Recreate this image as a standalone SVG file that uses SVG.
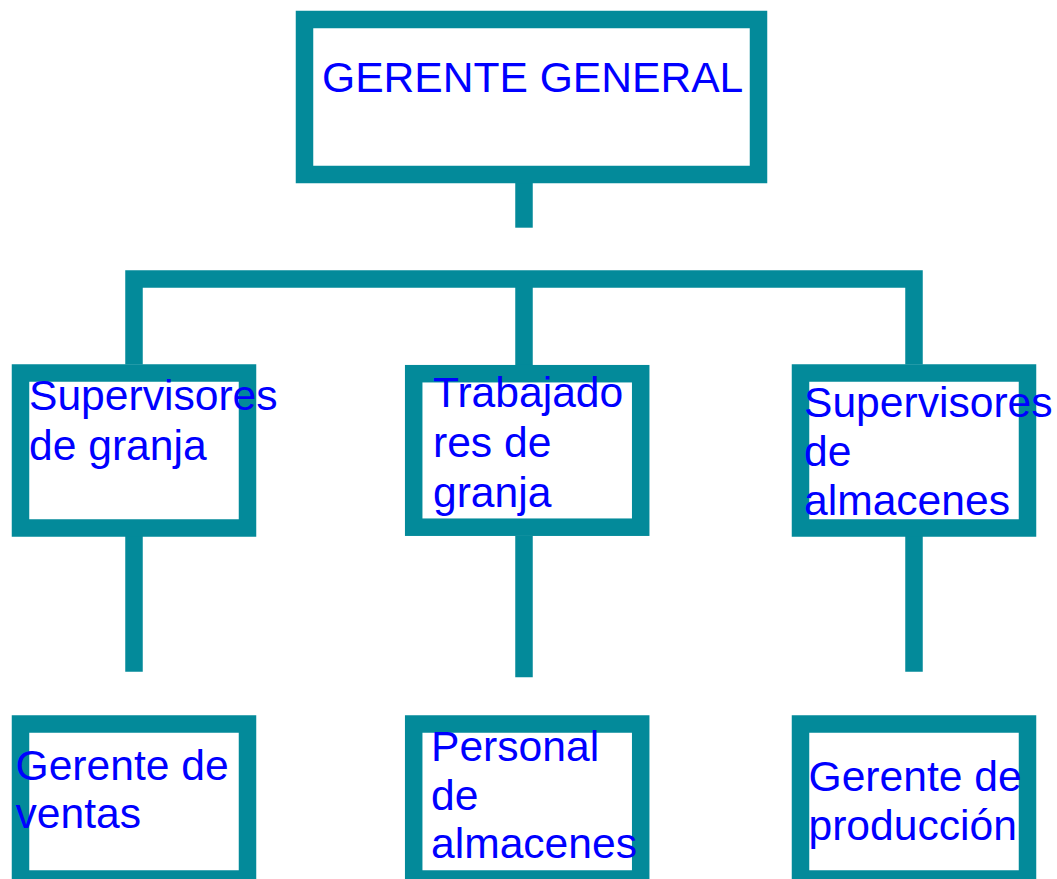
<svg xmlns="http://www.w3.org/2000/svg" width="1057" height="879" viewBox="0 0 1057 879">
<style>
.box{fill:#ffffff;stroke:#038a9a;stroke-width:17.5}
.conn{fill:none;stroke:#038a9a;stroke-width:17.5;stroke-linecap:butt;stroke-linejoin:miter}
.t{font-family:"Liberation Sans",Arial,sans-serif;font-size:42.6px;fill:#0000ff}
</style>
<rect width="1057" height="879" fill="#ffffff"/>
<g id="connectors">
<line class="conn" x1="524" y1="183" x2="524" y2="227.7"/>
<polyline class="conn" points="134,364.5 134,279 914,279 914,364.5"/>
<line class="conn" x1="524" y1="279" x2="524" y2="365"/>
<line class="conn" x1="134" y1="536" x2="134" y2="671.7"/>
<line class="conn" x1="524" y1="536" x2="524" y2="677.3"/>
<line class="conn" x1="914" y1="536" x2="914" y2="671.7"/>
</g>
<g id="gerente-general">
<rect class="box" x="304.5" y="19.5" width="454" height="155"/>
<text class="t" x="322" y="91.7">GERENTE GENERAL</text>
</g>
<g id="supervisores-granja">
<rect class="box" x="20.5" y="373" width="227" height="155"/>
<text class="t" x="29" y="410">Supervisores</text>
<text class="t" x="29" y="460">de granja</text>
</g>
<g id="trabajadores-granja">
<rect class="box" x="413.7" y="373.7" width="227" height="153.5"/>
<text class="t" x="433" y="407.3">Trabajado</text>
<text class="t" x="433" y="456.7">res de</text>
<text class="t" x="433" y="506.5">granja</text>
</g>
<g id="supervisores-almacenes">
<rect class="box" x="800.5" y="373" width="227" height="155"/>
<text class="t" x="804" y="416.7">Supervisores</text>
<text class="t" x="804" y="466">de</text>
<text class="t" x="804" y="515">almacenes</text>
</g>
<g id="gerente-ventas">
<rect class="box" x="20.5" y="724" width="227" height="155"/>
<text class="t" x="15.5" y="780">Gerente de</text>
<text class="t" x="15.5" y="828.3">ventas</text>
</g>
<g id="personal-almacenes">
<rect class="box" x="413.7" y="724" width="227" height="155"/>
<text class="t" x="431" y="760.7">Personal</text>
<text class="t" x="431" y="810">de</text>
<text class="t" x="431" y="858.3">almacenes</text>
</g>
<g id="gerente-produccion">
<rect class="box" x="800.5" y="724" width="227" height="155"/>
<text class="t" x="808.5" y="790.7">Gerente de</text>
<text class="t" x="808.5" y="840">producción</text>
</g>
</svg>
